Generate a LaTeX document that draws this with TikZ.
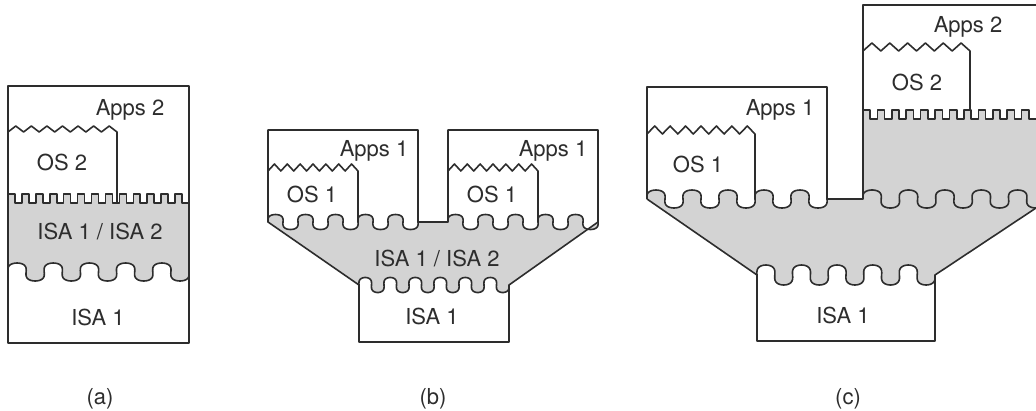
\documentclass[tikz,border=0pt]{standalone}
\usepackage{fontspec}
\setmainfont{TeX Gyre Heros}
\definecolor{ink}{RGB}{45,45,45}
\definecolor{isagray}{RGB}{211,211,211}
\tikzset{
  edge/.style={draw=ink, line width=1.6pt, line join=round},
  layer/.style={fill=isagray},
  lbl/.style={text=ink, font=\fontsize{22}{26}\selectfont, anchor=base, inner sep=0pt},
  % bulging interface wave: start x, mid y, period, amplitude, periods
  waveto/.style n args={5}{insert path={-- plot[domain=0:#5, samples=181, variable=\s]
      ({#1+#3*\s-0.09*#3*sin(720*\s)}, {#2-#4*sin(360*\s)})}},
  wavefrom/.style n args={5}{insert path={-- plot[domain=#5:0, samples=181, variable=\s]
      ({#1+#3*\s-0.09*#3*sin(720*\s)}, {#2-#4*sin(360*\s)})}},
}
\begin{document}
\begin{tikzpicture}[x=1pt, y=-1pt]
\useasboundingbox (0,0) rectangle (1036,410);
\clip (0,0) rectangle (1036,410);

% ---------- shaded ISA 1 / ISA 2 layers ----------
\fill[layer] (8,203) \foreach \k in {1,...,13} { -- ++(0,-9) -- ++(6.962,0) -- ++(0,9) -- ++(6.962,0) }
  -- (189,272) [wavefrom={8}{272}{36.2}{9}{5}] -- cycle;
\fill[layer] (268,222) [waveto={268}{222}{30}{7.5}{5}] -- (448,222)
  [waveto={448}{222}{30}{7.5}{5}] -- (509,285) [wavefrom={359}{285}{25}{7.5}{6}] -- cycle;
\fill[layer] (647,199) [waveto={647}{199}{36}{9}{5}] -- (863,199) -- (863,119)
  \foreach \k in {1,...,12} { -- ++(0,-9) -- ++(7.21,0) -- ++(0,9) -- ++(7.21,0) }
  -- (1040,119) -- (1040,208) -- (1036,208) -- (935,275)
  [wavefrom={757}{275}{35.6}{10}{5}] -- cycle;

% ---------- (a) ----------
\draw[edge] (8,86) rectangle (189,343);
\draw[edge] (8,132) \foreach \k in {1,...,7} { -- ++(7.786,-6) -- ++(7.786,6) } -- (117,203);
\draw[edge] (8,203) \foreach \k in {1,...,13} { -- ++(0,-9) -- ++(6.962,0) -- ++(0,9) -- ++(6.962,0) };
\draw[edge] (8,272) [waveto={8}{272}{36.2}{9}{5}];

% ---------- (b) ----------
\draw[edge] (268,222) -- (268,130) -- (418,130) -- (418,222) -- (448,222) -- (448,130)
  -- (598,130) -- (598,222) -- (509,285) -- (509,342) -- (359,342) -- (359,285) -- cycle;
\draw[edge] (268,222) [waveto={268}{222}{30}{7.5}{5}];
\draw[edge] (448,222) [waveto={448}{222}{30}{7.5}{5}];
\draw[edge] (359,285) [waveto={359}{285}{25}{7.5}{6}];
\draw[edge] (268,171) \foreach \k in {1,...,7} { -- ++(6.429,-7) -- ++(6.429,7) } -- (358,222);
\draw[edge] (448,171) \foreach \k in {1,...,7} { -- ++(6.429,-7) -- ++(6.429,7) } -- (538,222);

% ---------- (c) ----------
\draw[edge] (647,199) -- (647,87) -- (827,87) -- (827,199) -- (863,199) -- (863,5) -- (1040,5);
\draw[edge] (1036,208) -- (935,275) -- (935,341) -- (757,341) -- (757,275) -- (647,199);
\draw[edge] (647,199) [waveto={647}{199}{36}{9}{5}];
\draw[edge] (863,199) [waveto={863}{199}{36.4}{9}{4.75}];
\draw[edge] (757,275) [waveto={757}{275}{35.6}{10}{5}];
\draw[edge] (647,134) \foreach \k in {1,...,7} { -- ++(7.714,-8) -- ++(7.714,8) } -- (755,199);
\draw[edge] (863,119) \foreach \k in {1,...,12} { -- ++(0,-9) -- ++(7.21,0) -- ++(0,9) -- ++(7.21,0) };
\draw[edge] (863,51) \foreach \k in {1,...,6} { -- ++(8.917,-8) -- ++(8.917,8) } -- (970,110);

% ---------- labels ----------
\node[lbl] (aApps) at (130,115) {Apps 2};
\node[lbl] (aOS) at (62,170) {OS 2};
\node[lbl] (aMid) at (100,239) {ISA 1 / ISA 2};
\node[lbl] (aIsa) at (98,325) {ISA 1};

\node[lbl] (bAppsL) at (374,156) {Apps 1};
\node[lbl] (bAppsR) at (553,156) {Apps 1};
\node[lbl] (bOSL) at (312,202) {OS 1};
\node[lbl] (bOSR) at (492,202) {OS 1};
\node[lbl] (bMid) at (437,266) {ISA 1 / ISA 2};
\node[lbl] (bIsa) at (432,324) {ISA 1};

\node[lbl] (cApps1) at (780,115) {Apps 1};
\node[lbl] (cOS1) at (698,172) {OS 1};
\node[lbl] (cApps2) at (968,32) {Apps 2};
\node[lbl] (cOS2) at (917,90) {OS 2};
\node[lbl] (cIsa) at (843,323) {ISA 1};

\node[lbl] (capA) at (100,404) {(a)};
\node[lbl] (capB) at (433,404) {(b)};
\node[lbl] (capC) at (848,404) {(c)};
\end{tikzpicture}
\end{document}
